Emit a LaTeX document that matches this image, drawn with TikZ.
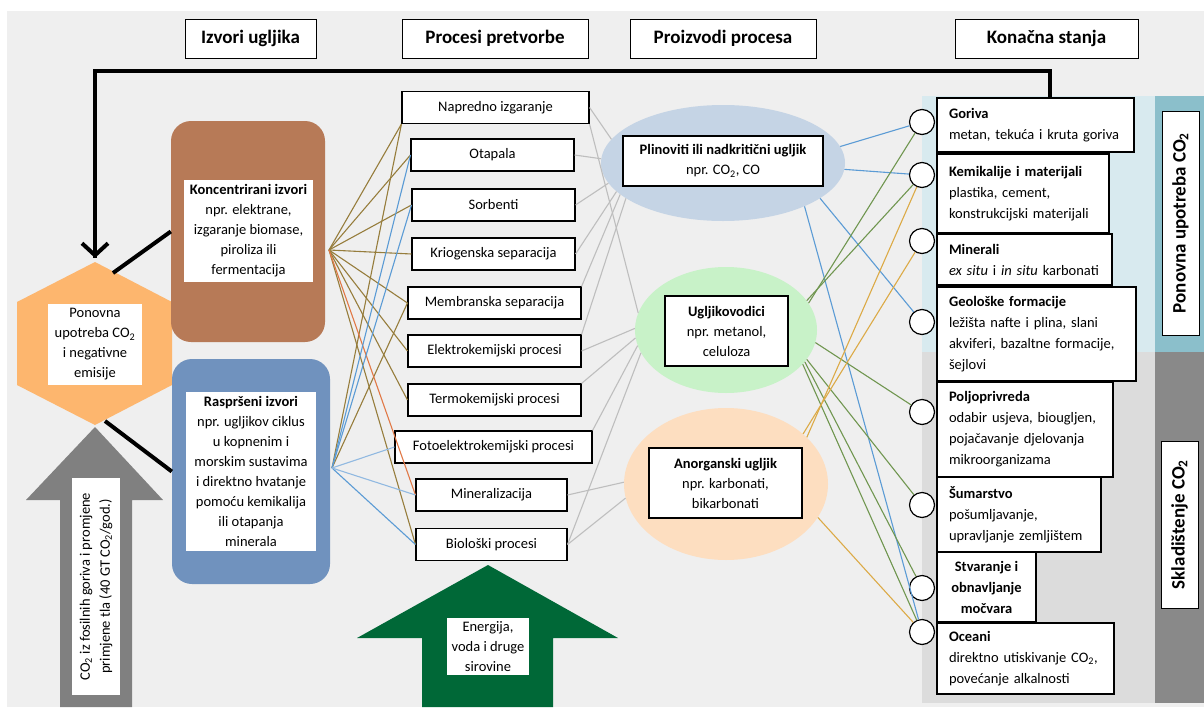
\documentclass[tikz,border=0pt]{standalone}
\usepackage{fontspec}
\setmainfont{Carlito}
\usetikzlibrary{shapes.geometric,arrows.meta}
\newcommand{\cotwo}{CO\textsubscript{2}}
\definecolor{bggrey}{RGB}{239,239,239}
\definecolor{concbrown}{RGB}{183,122,87}
\definecolor{dispblue}{RGB}{112,146,190}
\definecolor{hexorange}{RGB}{253,182,110}
\definecolor{arrgrey}{RGB}{128,128,128}
\definecolor{arrgreen}{RGB}{0,104,55}
\definecolor{plinfill}{RGB}{197,212,229}
\definecolor{ugljfill}{RGB}{200,242,200}
\definecolor{anorfill}{RGB}{253,222,192}
\definecolor{reusefill}{RGB}{216,234,239}
\definecolor{reusecol}{RGB}{139,191,203}
\definecolor{storefill}{RGB}{220,220,220}
\definecolor{storecol}{RGB}{137,137,137}
\definecolor{brownln}{RGB}{150,125,60}
\definecolor{orangeln}{RGB}{225,120,70}
\definecolor{blueln}{RGB}{91,155,213}
\definecolor{lblueln}{RGB}{145,185,225}
\definecolor{greyln}{RGB}{190,190,190}
\definecolor{greenln}{RGB}{112,150,80}
\definecolor{goldln}{RGB}{220,170,70}

\begin{document}
\begin{tikzpicture}
[x=1pt,y=-1pt]
\tikzset{hdr/.style={draw, fill=white, line width=1pt, font=\fontsize{19}{22}\selectfont\bfseries, minimum height=39pt, inner sep=0pt}}
\tikzset{proc/.style={draw, fill=white, line width=1.1pt, font=\fontsize{14.5}{18}\selectfont, minimum height=32pt, inner sep=0pt}}
\tikzset{txt/.style={fill=white, align=center, font=\fontsize{14.5}{20}\selectfont, inner sep=0pt}}
\tikzset{src/.style={rounded corners=20pt, inner sep=0pt}}
\tikzset{prod/.style={ellipse, inner sep=0pt}}
\tikzset{pbox/.style={draw, fill=white, line width=1.1pt, align=center, font=\fontsize{14.5}{20}\selectfont, inner sep=0pt}}
\tikzset{fin/.style={draw, fill=white, line width=1.1pt, align=left, font=\fontsize{14.5}{21}\selectfont, inner xsep=12pt, inner ysep=0pt}}
\tikzset{circ/.style={circle, draw, fill=white, line width=1.2pt, minimum size=25pt, inner sep=0pt}}
\tikzset{side/.style={draw, fill=white, line width=1pt, rotate=90, font=\fontsize{19}{22}\selectfont\bfseries, minimum height=37pt, inner sep=0pt}}
\tikzset{ln/.style={line width=1.1pt}}
\tikzset{fbline/.style={line width=4pt}}

\useasboundingbox (0,0) rectangle (1204,707);
\fill[white] (0,0) rectangle (1204,707);
\fill[bggrey] (7,11) rectangle (1204,707);

% panels on the right
\fill[reusefill] (922,96) rectangle (1155,352);
\fill[reusecol] (1155,96) rectangle (1204,352);
\fill[storefill] (922,352) rectangle (1155,703);
\fill[storecol] (1155,352) rectangle (1204,703);

% headers
\node [hdr, minimum width=131pt] (h1) at (250.5,38.5) {Izvori ugljika};
\node [hdr, minimum width=186pt] (h2) at (495,38.5) {Procesi pretvorbe};
\node [hdr, minimum width=186pt] (h3) at (723,38.5) {Proizvodi procesa};
\node [hdr, minimum width=183pt] (h4) at (1046.5,38.5) {Konačna stanja};

% big arrows and hexagon
\fill[arrgrey] (95,427) -- (163,500) -- (132,500) -- (132,707) -- (60,707) -- (60,500) -- (26,500) -- cycle;
\node [txt, rotate=90, minimum width=217pt, minimum height=48pt] (fossil) at (96,586.5) {\cotwo{} iz fosilnih goriva i promjene\\primjene tla (40 GT \cotwo/god.)};
\fill[arrgreen] (488,565) -- (618,638) -- (553,638) -- (553,707) -- (422,707) -- (422,638) -- (357,638) -- cycle;
\node [txt, minimum width=82pt, minimum height=57pt] (energy) at (488,646.5) {Energija,\\voda i druge\\sirovine};
\fill[hexorange] (95,262) -- (172,302) -- (172,385) -- (95,425) -- (17,385) -- (17,302) -- cycle;
\node [txt, minimum width=94pt, minimum height=81pt] (hex) at (95,344.5) {Ponovna\\upotreba \cotwo\\i negativne\\emisije};
\coordinate (hextop) at (95,258);
\coordinate (hexne) at (113,273);
\coordinate (hexse) at (105,421);

% sources
\node [src, fill=concbrown, minimum width=154pt, minimum height=221pt] (conc) at (248,231.5) {};
\node [txt, minimum width=129pt, minimum height=102pt] (conctxt) at (248.5,231) {\textbf{Koncentrirani izvori}\\npr. elektrane,\\izgaranje biomase,\\piroliza ili\\fermentacija};
\node [src, fill=dispblue, minimum width=158pt, minimum height=225pt] (disp) at (251,471.5) {};
\node [txt, minimum width=130pt, minimum height=159pt] (disptxt) at (251,471.5) {\textbf{Raspršeni izvori}\\npr. ugljikov ciklus\\u kopnenim i\\morskim sustavima\\i direktno hvatanje\\pomoću kemikalija\\ili otapanja\\minerala};
\coordinate (chub) at (329,250);
\coordinate (dhub) at (332,468);

% feedback loop
\coordinate (fbstart) at (1050,98);
\coordinate (fbcorner) at (95,71);
\draw[fbline] (fbstart) |- (fbcorner) -- (hextop);
\draw[fbline, -{Straight Barb[length=12pt,width=26pt]}] (fbcorner) -- (hextop);
\draw[fbline] (hexne) -- (conc.west);
\draw[fbline] (hexse) -- (disp.west);

% processes
\node [proc, minimum width=187pt] (napr) at (495.5,107.5) {Napredno izgaranje};
\node [proc, minimum width=163pt] (otap) at (492.5,155) {Otapala};
\node [proc, minimum width=163pt] (sorb) at (493.5,205) {Sorbenti};
\node [proc, minimum width=163pt] (krio) at (493.5,254) {Kriogenska separacija};
\node [proc, minimum width=173pt] (memb) at (494.5,303) {Membranska separacija};
\node [proc, minimum width=173pt] (elek) at (494.5,351) {Elektrokemijski procesi};
\node [proc, minimum width=173pt] (term) at (494.5,400) {Termokemijski procesi};
\node [proc, minimum width=197pt] (foto) at (493.5,447) {Fotoelektrokemijski procesi};
\node [proc, minimum width=151pt] (mine) at (491.5,495) {Mineralizacija};
\node [proc, minimum width=151pt] (biol) at (491.5,544.5) {Biološki procesi};

% products
\node [prod, fill=plinfill, minimum width=244pt, minimum height=116pt] (plin) at (723,163) {};
\node [pbox, minimum width=200pt, minimum height=50pt] (plintxt) at (723,161) {\textbf{Plinoviti ili nadkritični ugljik}\\npr. \cotwo, CO};
\node [prod, fill=ugljfill, minimum width=182pt, minimum height=126pt] (uglj) at (726,330) {};
\node [pbox, minimum width=123pt, minimum height=70pt] (ugljtxt) at (726.5,331) {\textbf{Ugljikovodici}\\npr. metanol,\\celuloza};
\node [prod, fill=anorfill, minimum width=204pt, minimum height=152pt] (anor) at (726,484) {};
\node [pbox, minimum width=153pt, minimum height=70pt] (anortxt) at (725.5,483) {\textbf{Anorganski ugljik}\\npr. karbonati,\\bikarbonati};

% final states
\node [fin, text width=173pt, minimum height=54pt] (gor) at (1035.5,125) {\textbf{Goriva}\\metan, tekuća i kruta goriva};
\node [fin, text width=148pt, minimum height=79pt] (kem) at (1023,193.5) {\textbf{Kemikalije i materijali}\\plastika, cement,\\konstrukcijski materijali};
\node [fin, text width=151pt, minimum height=51pt] (min) at (1024.5,259.5) {\textbf{Minerali}\\\textit{ex situ} i \textit{in situ} karbonati};
\node [fin, text width=175pt, minimum height=94pt] (geo) at (1036.5,334) {\textbf{Geološke formacije}\\ležišta nafte i plina, slani\\akviferi, bazaltne formacije,\\šejlovi};
\node [fin, text width=152pt, minimum height=95pt] (polj) at (1025,429.5) {\textbf{Poljoprivreda}\\odabir usjeva, biougljen,\\pojačavanje djelovanja\\mikroorganizama};
\node [fin, text width=140pt, minimum height=75pt] (sum) at (1019,514.5) {\textbf{Šumarstvo}\\pošumljavanje,\\upravljanje zemljištem};
\node [fin, align=center, inner xsep=0pt, minimum width=99pt, minimum height=70pt, font=\fontsize{14.5}{21}\selectfont\bfseries] (stv) at (986.5,587) {Stvaranje i\\obnavljanje\\močvara};
\node [fin, text width=153pt, minimum height=71pt] (oce) at (1025.5,658.5) {\textbf{Oceani}\\direktno utiskivanje \cotwo,\\povećanje alkalnosti};
\node [side, minimum width=224pt] (reuse) at (1180.5,223) {Ponovna upotreba \cotwo};
\node [side, minimum width=167pt] (store) at (1179.5,524.5) {Skladištenje \cotwo};

\node [circ] (c1) at (922,122) {};
\node [circ] (c2) at (922,175) {};
\node [circ] (c3) at (922,241) {};
\node [circ] (c4) at (922,322) {};
\node [circ] (c5) at (922,412) {};
\node [circ] (c6) at (922,505) {};
\node [circ] (c7) at (922,588) {};
\node [circ] (c8) at (922,632) {};

% sources to processes
\foreach \from/\to in {chub/napr.south west,chub/otap.west,chub/sorb.west,chub/krio.west,chub/memb.west,chub/elek.west,chub/term.west,chub/biol.west,dhub/napr.south west,dhub/memb.west}
	\draw[ln, brownln] (\from) -- (\to);
\draw[ln, orangeln] (chub) -- (mine.west);
\foreach \from/\to in {dhub/otap.west,dhub/sorb.west,dhub/biol.west}
	\draw[ln, blueln] (\from) -- (\to);
\foreach \from/\to in {dhub/foto.west,dhub/mine.west}
	\draw[ln, lblueln] (\from) -- (\to);

% processes to products
\foreach \from/\to in {napr.east/plin.168,otap.east/plin.178,sorb.east/plin.190,krio.east/plin.195,memb.north east/plin.197,elek.north east/plin.200,napr.south east/uglj.169,elek.east/uglj.179,term.north east/uglj.185,foto.north east/uglj.190,biol.east/uglj.195,mine.east/anor.179,biol.east/anor.188}
	\draw[ln, greyln] (\from) -- (\to);

% products to final states
\foreach \from/\to in {plin.8/c1,plin.-3/c2,plin.-20/c4,plin.-28/c8}
	\draw[ln, blueln] (\from) -- (\to);
\foreach \from/\to in {uglj.18/c1,uglj.20/c2,uglj.-8/c5,uglj.-20/c6,uglj.-22/c7,uglj.-24/c8}
	\draw[ln, greenln] (\from) -- (\to);
\foreach \from/\to in {anor.30/c2,anor.33/c3,anor.-20/c8}
	\draw[ln, goldln] (\from) -- (\to);
\end{tikzpicture}
\end{document}
